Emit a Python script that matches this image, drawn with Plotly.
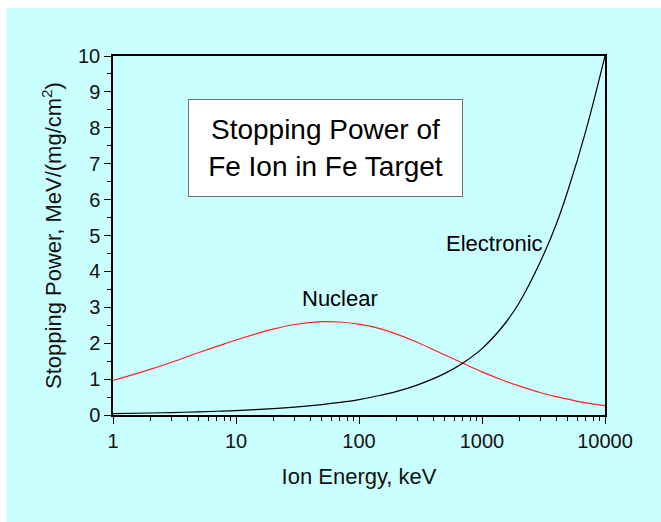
import plotly.graph_objects as go

# Ion energy grid (keV) and stopping powers, MeV/(mg/cm^2)
energy_kev = [1, 2, 3, 5, 7, 10, 20, 30, 50, 70, 100, 150, 200, 300, 500, 700,
              1000, 1500, 2000, 3000, 4000, 5000, 7000, 10000]
nuclear = [0.96, 1.27, 1.47, 1.74, 1.91, 2.09, 2.39, 2.52, 2.60, 2.59, 2.53,
           2.40, 2.26, 2.02, 1.67, 1.44, 1.20, 0.96, 0.81, 0.62, 0.51, 0.44,
           0.34, 0.26]
electronic = [0.04, 0.056, 0.068, 0.088, 0.104, 0.124, 0.178, 0.22, 0.29, 0.35,
              0.43, 0.55, 0.65, 0.84, 1.16, 1.45, 1.85, 2.50, 3.12, 4.29, 5.30,
              6.26, 7.93, 10.0]

x_tickvals = [1, 10, 100, 1000, 10000]
x_ticktext = ["1", "10", "100", "1000", "10000"]
x_minor = [m * d for d in (1, 10, 100, 1000) for m in range(2, 10)]

FONT = "Liberation Sans, Arial, sans-serif"
CYAN = "#caffff"

fig = go.Figure()
fig.add_trace(go.Scatter(x=energy_kev, y=nuclear, mode="lines",
                         line=dict(color="#ff2020", width=1.2, shape="spline", smoothing=1.0),
                         name="Nuclear", showlegend=False))
fig.add_trace(go.Scatter(x=energy_kev, y=electronic, mode="lines",
                         line=dict(color="#000000", width=1.2, shape="spline", smoothing=1.0),
                         name="Electronic", showlegend=False))

# cyan panel behind everything
fig.add_shape(type="rect", xref="paper", yref="paper",
              x0=-0.2154, x1=1.12, y0=-0.31, y1=1.1337,
              fillcolor=CYAN, line=dict(width=0), layer="below")

fig.add_annotation(x=1.846, y=3.25, xref="x", yref="y", text="Nuclear",
                   showarrow=False, font=dict(family=FONT, size=22, color="black"))
fig.add_annotation(x=3.10, y=4.79, xref="x", yref="y", text="Electronic",
                   showarrow=False, font=dict(family=FONT, size=22, color="black"))
fig.add_annotation(x=0.432, y=0.744, xref="paper", yref="paper",
                   xanchor="center", yanchor="middle",
                   text="Stopping Power of<br>Fe Ion in Fe Target",
                   showarrow=False, width=265, height=88, align="center",
                   bgcolor="white", bordercolor="#707070", borderwidth=1, borderpad=4,
                   font=dict(family=FONT, size=28, color="black"))

fig.update_xaxes(type="log", range=[0, 4], tickvals=x_tickvals, ticktext=x_ticktext,
                 ticks="outside", ticklen=7, tickwidth=1.2, tickcolor="black",
                 minor=dict(tickvals=x_minor, ticks="outside", ticklen=4,
                            tickwidth=1, tickcolor="black"),
                 showline=True, linecolor="black", linewidth=1.5, mirror=True,
                 showgrid=False, zeroline=False,
                 title=dict(text="Ion Energy, keV", standoff=18,
                            font=dict(family=FONT, size=22, color="#111")),
                 tickfont=dict(family=FONT, size=20, color="#111"))
fig.update_yaxes(range=[0, 10], dtick=1, tick0=0,
                 ticks="outside", ticklen=7, tickwidth=1.2, tickcolor="black",
                 minor=dict(dtick=0.5, ticks="outside", ticklen=4,
                            tickwidth=1, tickcolor="black"),
                 showline=True, linecolor="black", linewidth=1.5, mirror=True,
                 showgrid=False, zeroline=False,
                 title=dict(text="Stopping Power, MeV/(mg/cm<sup>2</sup>)", standoff=10,
                            font=dict(family=FONT, size=22, color="#111")),
                 tickfont=dict(family=FONT, size=20, color="#111"))

fig.update_layout(width=661, height=522, paper_bgcolor="white",
                  plot_bgcolor="rgba(0,0,0,0)",
                  margin=dict(l=113, r=56, t=56, b=107, autoexpand=False),
                  showlegend=False)

fig.write_html("out.html")
